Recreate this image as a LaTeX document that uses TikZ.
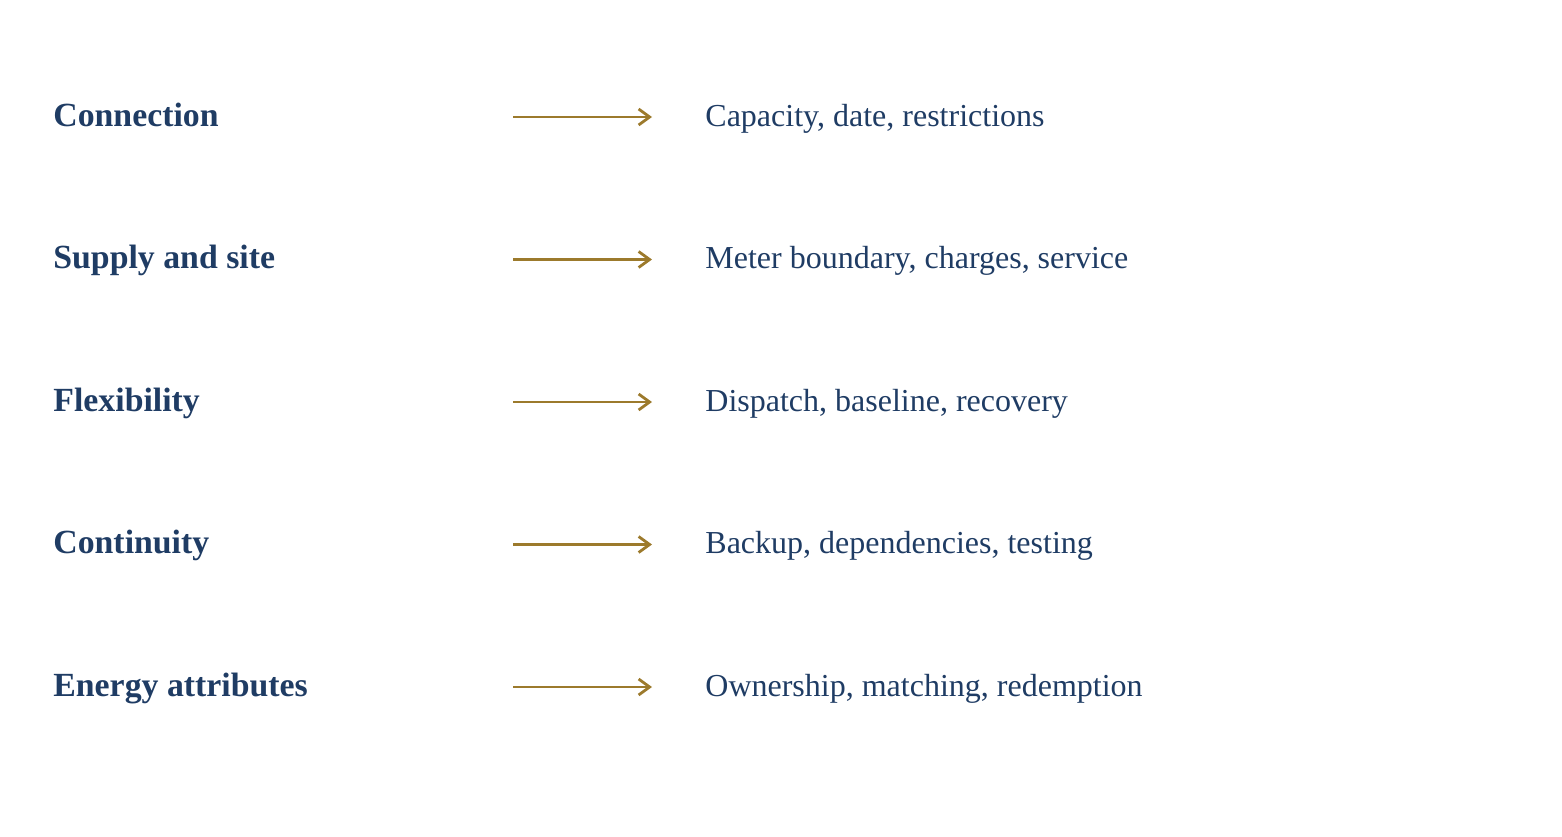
\documentclass[tikz,border=0pt]{standalone}
\usepackage{fontspec}
\setmainfont{Liberation Serif}
\usepackage{tikz}
\usetikzlibrary{positioning, arrows.meta}
\usepackage{xcolor}
\definecolor{NavyText}{RGB}{31, 60, 100}
\definecolor{GoldLine}{RGB}{156, 122, 44}

\begin{document}
\begin{tikzpicture}[x=0.5pt, y=-0.5pt]
          \tikzstyle{topic} = [anchor=base west, inner sep=0pt, text=NavyText,
            font=\fontsize{16.9}{19}\selectfont\bfseries]
          \tikzstyle{detail} = [anchor=base west, inner sep=0pt, text=NavyText,
            font=\fontsize{16}{19}\selectfont]
          \tikzstyle{conn} = [draw=GoldLine, line width=1.4pt,
            -{Straight Barb[length=5.5pt, width=8pt, line width=1.4pt]}]

          \useasboundingbox (0,0) rectangle (1562,836);

          % Filas: tema -> detalle
          \foreach \topic/\detail [count=\i] in {Connection/{Capacity, date, restrictions},
              {Supply and site}/{Meter boundary, charges, service},
              Flexibility/{Dispatch, baseline, recovery},
              Continuity/{Backup, dependencies, testing},
              {Energy attributes}/{Ownership, matching, redemption}} {
            \node[topic] (t\i) at (53, {126+(\i-1)*142.5}) {\topic};
            \node[detail] (d\i) at (705, {126+(\i-1)*142.5}) {\detail};
            \coordinate (s\i) at (513, {117+(\i-1)*142.5});
            \coordinate (e\i) at (652, {117+(\i-1)*142.5});
            \draw[conn] (s\i) -- (e\i);
          }
        \end{tikzpicture}
\end{document}
